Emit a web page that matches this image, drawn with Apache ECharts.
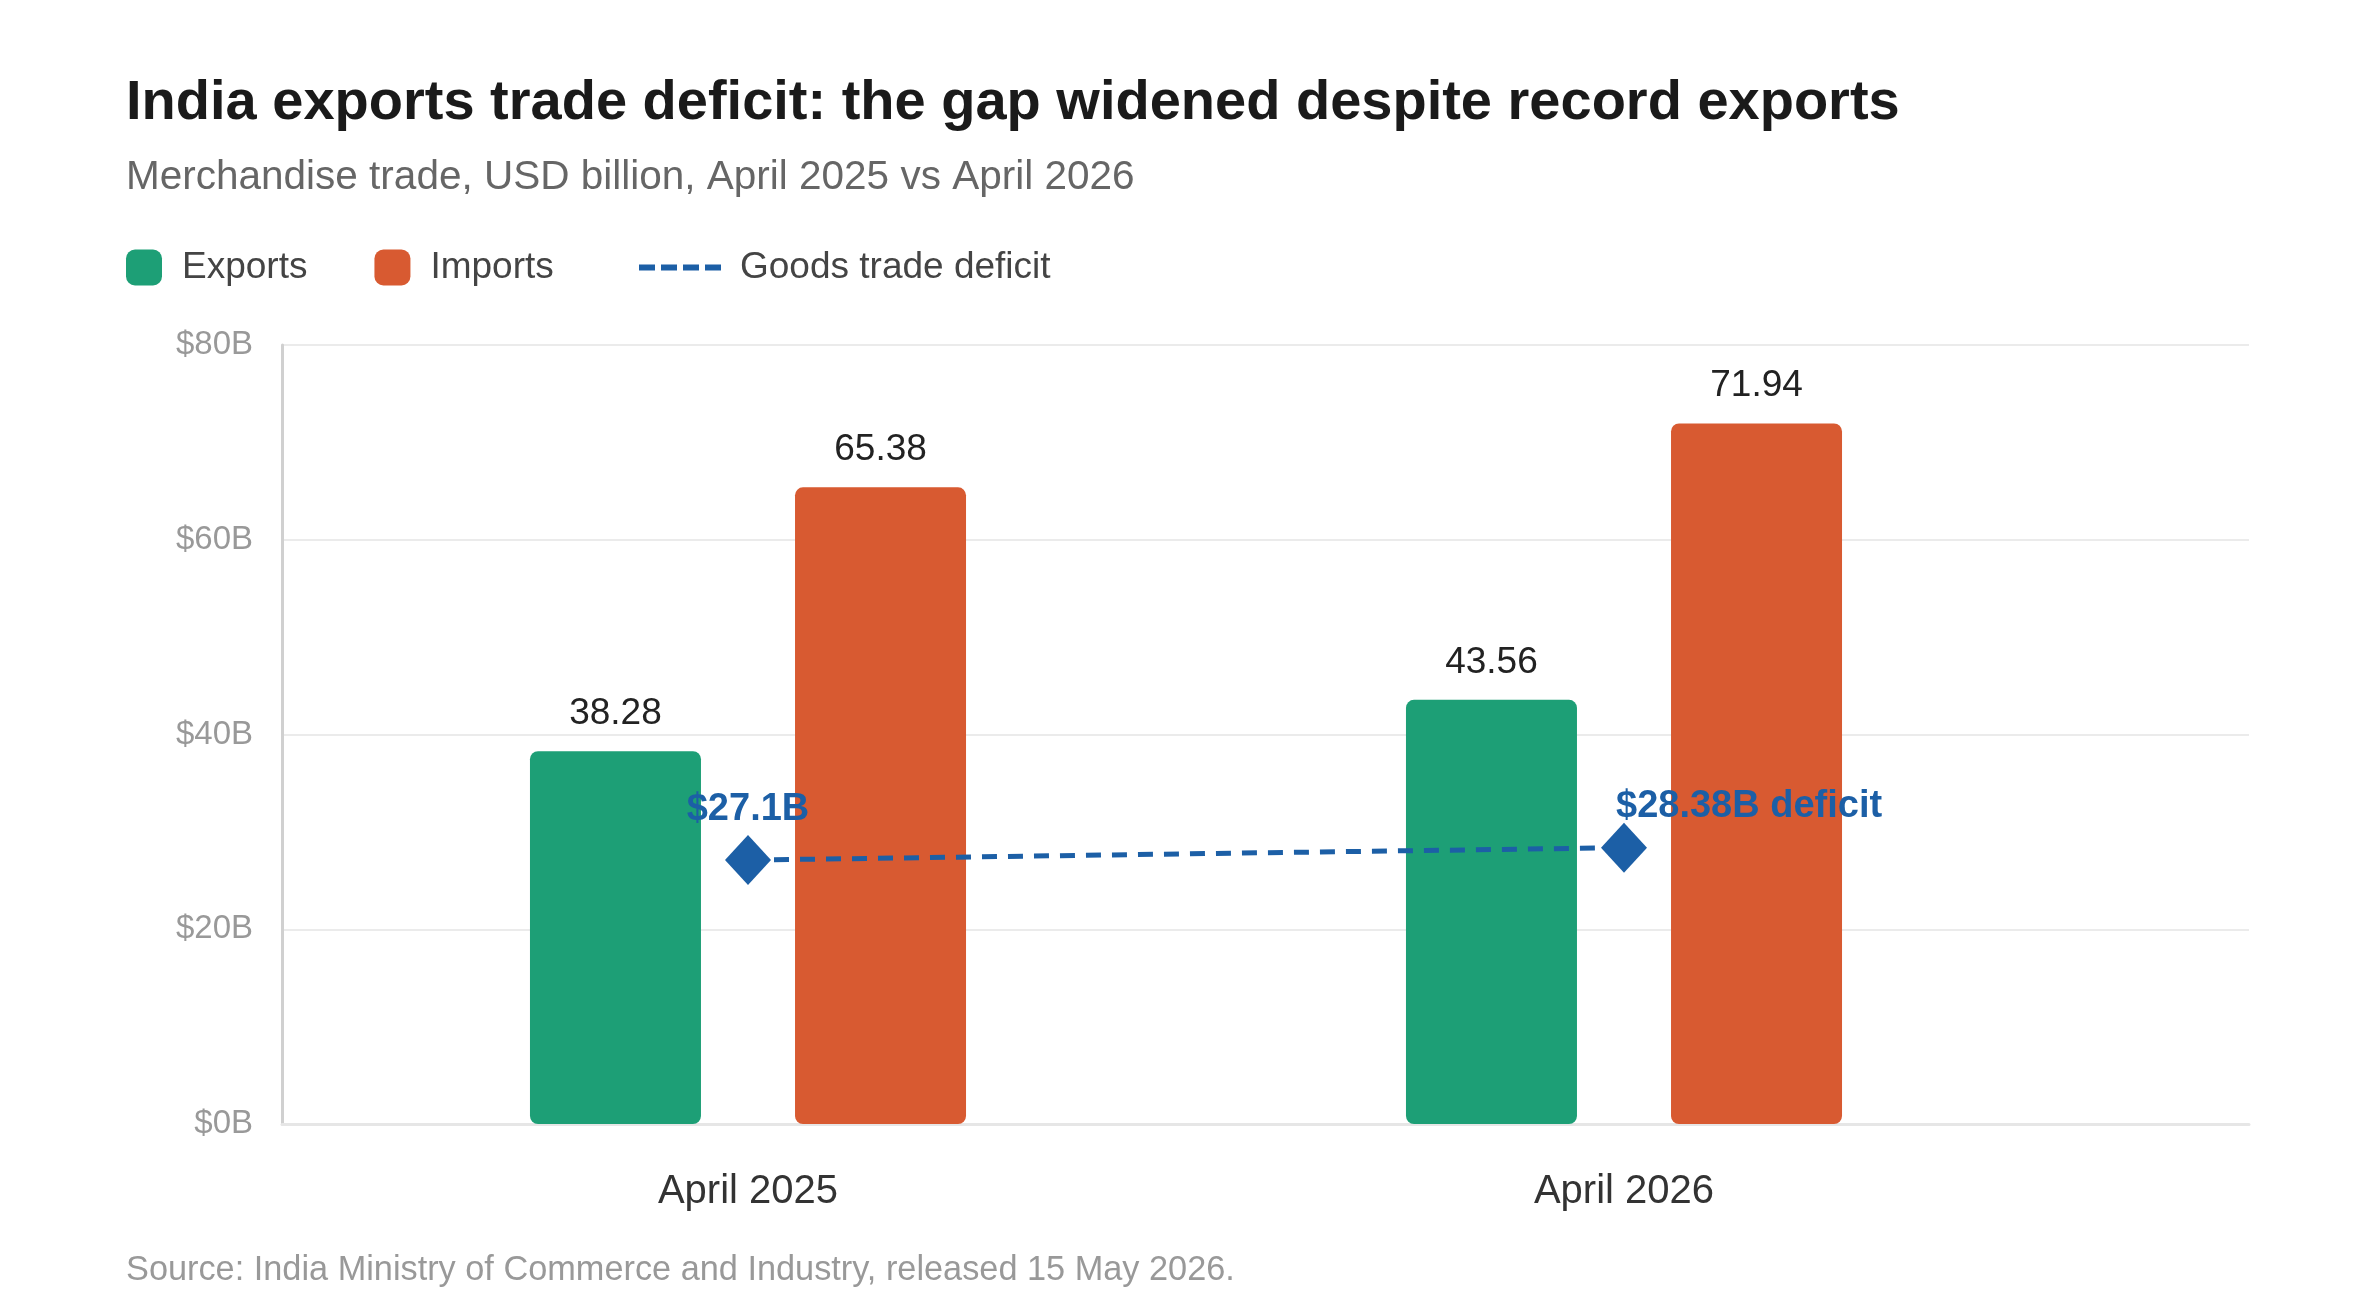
<!DOCTYPE html>
<html>
<head>
<meta charset="utf-8">
<script src="https://cdn.jsdelivr.net/npm/echarts@6/dist/echarts.min.js"></script>
<style>
html, body { margin: 0; padding: 0; background: #fff; }
#container { width: 2375px; height: 1313px; }
</style>
</head>
<body>
<div id="container"></div>
<script>
var dom = document.getElementById("container");
var myChart = echarts.init(dom);
var option = null;

// data
var categories = ['April 2025', 'April 2026'];
var exportsData = [38.28, 43.56];
var importsData = [65.38, 71.94];
var deficitData = [27.1, 28.38];
var yTicks = [0, 20, 40, 60, 80];

var FONT = "'Liberation Sans', Arial, Helvetica, sans-serif";
var GREEN = '#1d9f76';
var ORANGE = '#d85a31';
var BLUE = '#1c5fa6';

// deficit point labels: first one centred, last one says "deficit"
var deficitPoints = deficitData.map(function (v, i) {
    var last = i === deficitData.length - 1;
    return {
        value: v,
        label: {
            formatter: '$' + v + 'B' + (last ? ' deficit' : ''),
            align: last ? 'left' : 'center',
            offset: last ? [-8, 3] : [0, 3],
            distance: last ? 0 : 10
        }
    };
});

option = {
    backgroundColor: '#ffffff',
    animation: false,
    title: [
        {
            text: 'India exports trade deficit: the gap widened despite record exports',
            left: 126, top: 76, padding: 0,
            textStyle: { fontFamily: FONT, fontSize: 56, fontWeight: 'bold', color: '#1a1a1a' }
        },
        {
            text: 'Merchandise trade, USD billion, April 2025 vs April 2026',
            left: 126, top: 157, padding: 0,
            textStyle: { fontFamily: FONT, fontSize: 40.5, fontWeight: 'normal', color: '#666666' }
        },
        {
            text: 'Source: India Ministry of Commerce and Industry, released 15 May 2026.',
            left: 126, top: 1254, padding: 0,
            textStyle: { fontFamily: FONT, fontSize: 34.3, fontWeight: 'normal', color: '#999999' }
        }
    ],
    legend: [
        {
            data: ['Exports', 'Imports'],
            left: 126, top: 249, padding: 0,
            icon: 'roundRect',
            itemWidth: 36, itemHeight: 36,
            itemGap: 67,
            textStyle: { fontFamily: FONT, fontSize: 37, color: '#444444', padding: [0, 0, 0, 15] }
        },
        {
            data: [{
                name: 'Goods trade deficit',
                icon: 'path://M0,0h16v6h-16z M22,0h16v6h-16z M44,0h16v6h-16z M66,0h16v6h-16z'
            }],
            left: 639, top: 249, padding: 0,
            itemWidth: 84, itemHeight: 6,
            itemStyle: { color: BLUE },
            textStyle: { fontFamily: FONT, fontSize: 37, color: '#444444', padding: [0, 0, 0, 13] }
        }
    ],
    grid: [
        { left: 282, right: 126, top: 345, bottom: 189 },
        { left: 310, right: 313, top: 345, bottom: 189 }
    ],
    xAxis: [
        {
            gridIndex: 0,
            type: 'category',
            data: categories,
            axisLine: { show: true, lineStyle: { color: '#e6e6e6', width: 3 } },
            axisTick: { show: false },
            axisLabel: { show: false }
        },
        {
            gridIndex: 1,
            type: 'category',
            data: categories,
            axisLine: { show: false },
            axisTick: { show: false },
            axisLabel: { fontFamily: FONT, fontSize: 40, color: '#333333', margin: 48 }
        }
    ],
    yAxis: [
        {
            gridIndex: 0,
            type: 'value',
            min: yTicks[0], max: yTicks[yTicks.length - 1], interval: 20,
            axisLine: { show: true, lineStyle: { color: '#d0d0d0', width: 3 } },
            axisTick: { show: false },
            splitLine: { lineStyle: { color: '#ebebeb', width: 2 } },
            axisLabel: {
                fontFamily: FONT, fontSize: 33, color: '#999999', margin: 29,
                formatter: function (v) { return '$' + v + 'B'; }
            }
        },
        {
            gridIndex: 1,
            type: 'value',
            min: yTicks[0], max: yTicks[yTicks.length - 1], interval: 20,
            show: false
        }
    ],
    series: [
        {
            name: 'Exports',
            type: 'bar',
            xAxisIndex: 1, yAxisIndex: 1,
            data: exportsData,
            barWidth: 171,
            barGap: '55%',
            itemStyle: { color: GREEN, borderRadius: 8 },
            label: {
                show: true, position: 'top', distance: 19,
                fontFamily: FONT, fontSize: 37, color: '#222222'
            },
            z: 2
        },
        {
            name: 'Imports',
            type: 'bar',
            xAxisIndex: 1, yAxisIndex: 1,
            data: importsData,
            barWidth: 171,
            barGap: '55%',
            itemStyle: { color: ORANGE, borderRadius: 8 },
            label: {
                show: true, position: 'top', distance: 19,
                fontFamily: FONT, fontSize: 37, color: '#222222'
            },
            z: 2
        },
        {
            name: 'Goods trade deficit',
            type: 'line',
            xAxisIndex: 1, yAxisIndex: 1,
            data: deficitPoints,
            symbol: 'diamond',
            symbolSize: [46, 50],
            itemStyle: { color: BLUE },
            lineStyle: { color: BLUE, width: 5, type: [15, 11] },
            label: {
                show: true, position: 'top',
                fontFamily: FONT, fontSize: 38, fontWeight: 'bold', color: BLUE
            },
            z: 5
        }
    ]
};

if (option && typeof option === "object") {
    myChart.setOption(option, true);
}
</script>
</body>
</html>
